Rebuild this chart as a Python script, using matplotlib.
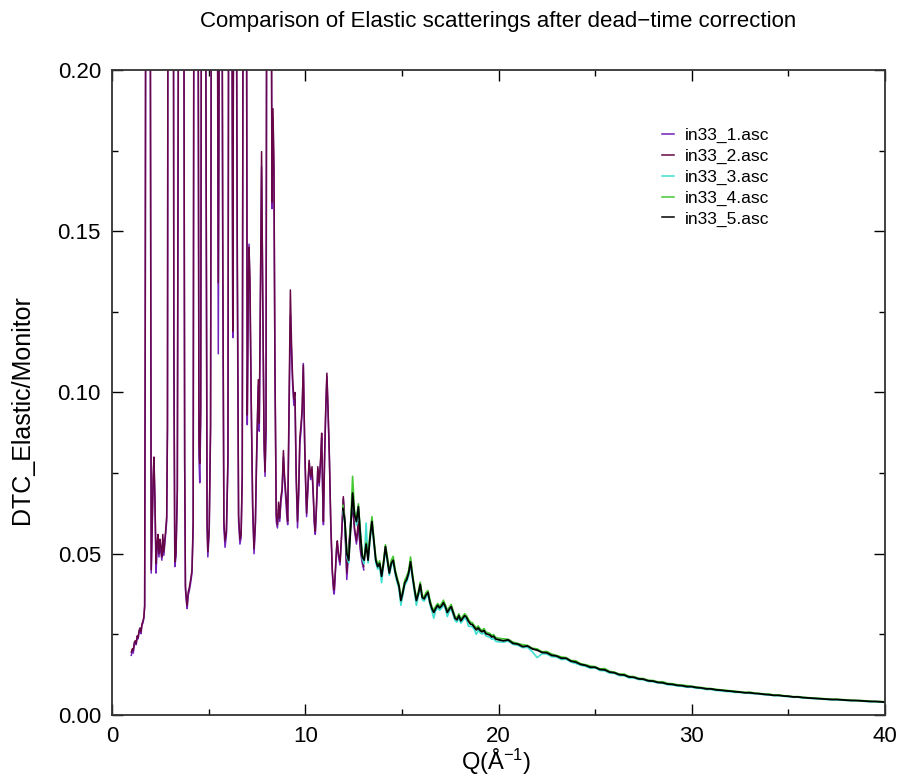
import matplotlib
matplotlib.use('Agg')
import matplotlib.pyplot as plt
from matplotlib.ticker import MultipleLocator, FormatStrFormatter

plt.rcParams['font.family'] = ['Liberation Sans', 'DejaVu Sans']
plt.rcParams['mathtext.fontset'] = 'custom'
plt.rcParams['mathtext.rm'] = 'Liberation Sans'
plt.rcParams['mathtext.default'] = 'regular'

# ---------------- data: low-Q runs (in33_1, in33_2) ----------------
q_low = [1.00, 1.05, 1.10, 1.15, 1.20, 1.25, 1.30, 1.35, 1.40, 1.45, 1.50, 1.55, 1.60, 1.65, 1.69,
         1.72, 1.78, 1.86, 1.94, 2.00, 2.03, 2.08, 2.13, 2.17, 2.22, 2.28, 2.33, 2.38, 2.43, 2.48, 2.53, 2.58, 2.63, 2.68, 2.73, 2.78, 2.83, 2.87,
         2.93, 3.05, 3.15, 3.20, 3.25, 3.31, 3.38, 3.43, 3.50, 3.60, 3.70, 3.76, 3.80, 3.85, 3.89, 3.94, 4.00, 4.07, 4.14, 4.20,
         4.25, 4.35, 4.45, 4.50, 4.54, 4.59, 4.65, 4.75, 4.86, 4.92, 4.96, 5.03, 5.10,
         5.19, 5.33, 5.47, 5.50, 5.55, 5.64, 5.73, 5.79, 5.85, 5.92, 6.00,
         6.05, 6.15, 6.22, 6.25, 6.28, 6.38, 6.48, 6.55, 6.62, 6.68, 6.74,
         6.80, 6.90, 6.97, 7.00, 7.05, 7.09, 7.14, 7.20, 7.28, 7.35, 7.42,
         7.48, 7.57, 7.62, 7.68, 7.74, 7.80, 7.87, 7.92, 7.97,
         8.03, 8.15, 8.25, 8.28, 8.33, 8.38, 8.43, 8.50, 8.56, 8.62, 8.68, 8.74, 8.80, 8.87, 8.92, 8.98, 9.04, 9.09,
         9.15, 9.23, 9.29, 9.35, 9.41, 9.47, 9.53, 9.60, 9.66, 9.72, 9.78, 9.84, 9.90, 9.97, 10.03, 10.07,
         10.13, 10.20, 10.28, 10.35, 10.42, 10.47, 10.52, 10.58, 10.65, 10.72, 10.80, 10.85, 10.90, 10.94,
         11.00, 11.06, 11.12, 11.18, 11.25, 11.32, 11.40, 11.46, 11.50, 11.56, 11.62, 11.66, 11.72, 11.80, 11.88, 11.97,
         12.05, 12.15, 12.25, 12.35, 12.45, 12.55, 12.65, 12.75, 12.85, 12.95, 13.03]

y_in33_1 = [0.0185, 0.0200, 0.0192, 0.0215, 0.0225, 0.0218, 0.0238, 0.0236, 0.0255, 0.0265, 0.0252, 0.0278, 0.0285, 0.0300, 0.0335,
            0.115, 0.400, 0.580, 0.370, 0.150, 0.0440, 0.0580, 0.0720, 0.0790, 0.0660, 0.0440, 0.0510, 0.0550, 0.0490, 0.0530, 0.0505, 0.0480, 0.0545, 0.0495, 0.0530, 0.0565, 0.0600, 0.0880,
            0.440, 0.680, 0.390, 0.115, 0.0460, 0.0490, 0.0690, 0.190, 0.540, 0.470, 0.290, 0.0780, 0.0390, 0.0350, 0.0330, 0.0370, 0.0385, 0.0410, 0.0440, 0.0580,
            0.290, 0.510, 0.250, 0.0800, 0.0720, 0.0900, 0.310, 0.410, 0.190, 0.0580, 0.0490, 0.0570, 0.0880,
            0.390, 0.510, 0.190, 0.1120, 0.210, 0.370, 0.140, 0.0580, 0.0520, 0.0560, 0.0780,
            0.290, 0.370, 0.190, 0.1170, 0.200, 0.340, 0.140, 0.0600, 0.0530, 0.0550, 0.0730,
            0.290, 0.390, 0.190, 0.0900, 0.1300, 0.1460, 0.1300, 0.0980, 0.0630, 0.0500, 0.0590,
            0.0780, 0.1020, 0.0880, 0.1280, 0.1700, 0.1280, 0.0830, 0.0740, 0.0880,
            0.340, 0.440, 0.210, 0.1570, 0.1850, 0.1680, 0.1080, 0.0600, 0.0580, 0.0640, 0.0600, 0.0660, 0.0690, 0.0800, 0.0730, 0.0680, 0.0620, 0.0590,
            0.0880, 0.1240, 0.1120, 0.1020, 0.0960, 0.0980, 0.0730, 0.0580, 0.0680, 0.0840, 0.0880, 0.0940, 0.1090, 0.0830, 0.0690, 0.0615,
            0.0690, 0.0780, 0.0730, 0.0760, 0.0670, 0.0590, 0.0560, 0.0640, 0.0760, 0.0710, 0.0790, 0.0860, 0.0690, 0.0590,
            0.0790, 0.0940, 0.1050, 0.0940, 0.0790, 0.0590, 0.0440, 0.0385, 0.0375, 0.0440, 0.0510, 0.0530, 0.0490, 0.0465, 0.0550, 0.0670,
            0.0590, 0.0420, 0.0510, 0.0590, 0.0650, 0.0570, 0.0530, 0.0590, 0.0510, 0.0470, 0.0450]

y_in33_2 = [0.0195, 0.0205, 0.0200, 0.0225, 0.0230, 0.0222, 0.0245, 0.0240, 0.0262, 0.0270, 0.0258, 0.0283, 0.0290, 0.0305, 0.0340,
            0.120, 0.420, 0.600, 0.380, 0.160, 0.0450, 0.0600, 0.0740, 0.0800, 0.0680, 0.0470, 0.0530, 0.0560, 0.0500, 0.0545, 0.0520, 0.0490, 0.0560, 0.0505, 0.0540, 0.0575, 0.0615, 0.0900,
            0.450, 0.700, 0.400, 0.120, 0.0475, 0.0500, 0.0700, 0.200, 0.550, 0.480, 0.300, 0.0800, 0.0400, 0.0360, 0.0340, 0.0380, 0.0395, 0.0420, 0.0450, 0.0600,
            0.300, 0.520, 0.260, 0.0850, 0.0780, 0.0950, 0.320, 0.420, 0.200, 0.0600, 0.0506, 0.0580, 0.0900,
            0.400, 0.520, 0.200, 0.1340, 0.220, 0.380, 0.150, 0.0600, 0.0540, 0.0570, 0.0800,
            0.300, 0.380, 0.200, 0.1190, 0.210, 0.350, 0.150, 0.0620, 0.0545, 0.0560, 0.0750,
            0.300, 0.400, 0.200, 0.0930, 0.1300, 0.1450, 0.1350, 0.1000, 0.0650, 0.0515, 0.0600,
            0.0800, 0.1040, 0.0905, 0.1300, 0.1747, 0.1300, 0.0850, 0.0754, 0.0900,
            0.350, 0.450, 0.220, 0.1590, 0.1880, 0.1700, 0.1100, 0.0620, 0.0590, 0.0660, 0.0610, 0.0676, 0.0700, 0.0820, 0.0750, 0.0700, 0.0650, 0.0600,
            0.0900, 0.1318, 0.1150, 0.1040, 0.0980, 0.1000, 0.0750, 0.0600, 0.0700, 0.0860, 0.0900, 0.0950, 0.1085, 0.0850, 0.0700, 0.0626,
            0.0700, 0.0790, 0.0740, 0.0770, 0.0680, 0.0600, 0.0570, 0.0650, 0.0770, 0.0720, 0.0800, 0.0874, 0.0700, 0.0600,
            0.0800, 0.0950, 0.1060, 0.0950, 0.0800, 0.0600, 0.0450, 0.0400, 0.0388, 0.0450, 0.0520, 0.0540, 0.0500, 0.0475, 0.0560, 0.0677,
            0.0600, 0.0440, 0.0520, 0.0600, 0.0660, 0.0580, 0.0540, 0.0600, 0.0520, 0.0480, 0.0460]

# ---------------- data: high-Q runs (in33_3, in33_4, in33_5) ----------------
q_high = [11.95, 12.05, 12.15, 12.25, 12.35, 12.45, 12.55, 12.65, 12.75, 12.85,
          12.95, 13.05, 13.15, 13.25, 13.35, 13.45, 13.55, 13.65, 13.75, 13.85,
          13.95, 14.05, 14.15, 14.25, 14.35, 14.45, 14.55, 14.65, 14.75, 14.85,
          14.95, 15.05, 15.15, 15.25, 15.35, 15.45, 15.55, 15.65, 15.75, 15.85,
          15.95, 16.05, 16.15, 16.25, 16.35, 16.45, 16.55, 16.65, 16.75, 16.85,
          16.95, 17.05, 17.15, 17.25, 17.35, 17.45, 17.55, 17.65, 17.75, 17.85,
          17.95, 18.05, 18.15, 18.25, 18.35, 18.45, 18.55, 18.65, 18.75, 18.85,
          18.95, 19.05, 19.15, 19.25, 19.35, 19.45, 19.55, 19.65, 19.75, 19.85,
          19.95,
          20.25, 20.50, 20.75, 21.00, 21.25, 21.50, 21.75, 22.00, 22.25, 22.50,
          22.75, 23.00, 23.25, 23.50, 23.75, 24.00, 24.25, 24.50, 24.75, 25.00,
          25.25, 25.50, 25.75, 26.00, 26.25, 26.50, 26.75, 27.00, 27.25, 27.50,
          27.75, 28.00, 28.25, 28.50, 28.75, 29.00, 29.25, 29.50, 29.75, 30.00,
          30.25, 30.50, 30.75, 31.00, 31.25, 31.50, 31.75, 32.00, 32.25, 32.50,
          32.75, 33.00, 33.25, 33.50, 33.75, 34.00, 34.25, 34.50, 34.75, 35.00,
          35.25, 35.50, 35.75, 36.00, 36.25, 36.50, 36.75, 37.00, 37.25, 37.50,
          37.75, 38.00, 38.25, 38.50, 38.75, 39.00, 39.25, 39.50, 39.75, 40.00]

y_in33_3 = [0.0630, 0.0592, 0.0490, 0.0472, 0.0595, 0.0675, 0.0630, 0.0588, 0.0640, 0.0575,
            0.0485, 0.0468, 0.0595, 0.0472, 0.0542, 0.0592, 0.0532, 0.0472, 0.0452, 0.0463,
            0.0410, 0.0462, 0.0515, 0.0473, 0.0433, 0.0462, 0.0473, 0.0437, 0.0412, 0.0392,
            0.0340, 0.0372, 0.0402, 0.0413, 0.0432, 0.0468, 0.0423, 0.0382, 0.0340, 0.0368,
            0.0398, 0.0358, 0.0353, 0.0365, 0.0373, 0.0343, 0.0323, 0.0300, 0.0323, 0.0333,
            0.0325, 0.0331, 0.0341, 0.0329, 0.0305, 0.0321, 0.0329, 0.0311, 0.0293, 0.0288,
            0.0301, 0.0285, 0.0293, 0.0301, 0.0295, 0.0275, 0.0275, 0.0273, 0.0265, 0.0250,
            0.0263, 0.0255, 0.0251, 0.0255, 0.0245, 0.0243, 0.0241, 0.0235, 0.0237, 0.0229,
            0.0227,
            0.0226, 0.0229, 0.0219, 0.0216, 0.0209, 0.0210, 0.0196, 0.0178, 0.0190, 0.0189,
            0.0181, 0.0180, 0.0172, 0.0173, 0.0164, 0.0160, 0.0154, 0.0151, 0.0145, 0.0146,
            0.0138, 0.0137, 0.0130, 0.0129, 0.0122, 0.0122, 0.0115, 0.0115, 0.0110, 0.0109,
            0.0104, 0.0103, 0.0099, 0.0098, 0.0094, 0.0093, 0.0090, 0.0089, 0.0086, 0.0086,
            0.0083, 0.0082, 0.0079, 0.0079, 0.0076, 0.0075, 0.0073, 0.0072, 0.0070, 0.0070,
            0.0068, 0.0067, 0.0066, 0.0065, 0.0063, 0.0062, 0.0060, 0.0060, 0.0058, 0.0057,
            0.0055, 0.0055, 0.0053, 0.0052, 0.0051, 0.0050, 0.0049, 0.0048, 0.0047, 0.0047,
            0.0046, 0.0045, 0.0044, 0.0044, 0.0043, 0.0042, 0.0041, 0.0041, 0.0040, 0.0039]

y_in33_4 = [0.0650, 0.0605, 0.0508, 0.0490, 0.0590, 0.0740, 0.0630, 0.0610, 0.0655, 0.0566,
            0.0498, 0.0487, 0.0536, 0.0490, 0.0560, 0.0615, 0.0548, 0.0488, 0.0467, 0.0478,
            0.0437, 0.0478, 0.0528, 0.0490, 0.0446, 0.0480, 0.0492, 0.0452, 0.0428, 0.0406,
            0.0362, 0.0388, 0.0418, 0.0430, 0.0448, 0.0490, 0.0438, 0.0398, 0.0362, 0.0382,
            0.0412, 0.0372, 0.0366, 0.0380, 0.0386, 0.0358, 0.0336, 0.0325, 0.0337, 0.0346,
            0.0338, 0.0345, 0.0356, 0.0342, 0.0325, 0.0334, 0.0343, 0.0324, 0.0306, 0.0301,
            0.0314, 0.0298, 0.0306, 0.0314, 0.0308, 0.0296, 0.0288, 0.0286, 0.0277, 0.0270,
            0.0276, 0.0267, 0.0263, 0.0268, 0.0257, 0.0255, 0.0253, 0.0247, 0.0249, 0.0241,
            0.0239,
            0.0236, 0.0235, 0.0226, 0.0222, 0.0218, 0.0216, 0.0207, 0.0205, 0.0196, 0.0197,
            0.0189, 0.0185, 0.0180, 0.0178, 0.0169, 0.0168, 0.0159, 0.0156, 0.0152, 0.0150,
            0.0143, 0.0144, 0.0135, 0.0133, 0.0127, 0.0127, 0.0120, 0.0119, 0.0114, 0.0113,
            0.0108, 0.0107, 0.0103, 0.0103, 0.0098, 0.0097, 0.0094, 0.0093, 0.0091, 0.0089,
            0.0087, 0.0085, 0.0083, 0.0082, 0.0080, 0.0078, 0.0077, 0.0075, 0.0074, 0.0072,
            0.0070, 0.0071, 0.0068, 0.0067, 0.0065, 0.0065, 0.0062, 0.0062, 0.0060, 0.0059,
            0.0057, 0.0057, 0.0055, 0.0054, 0.0053, 0.0052, 0.0051, 0.0050, 0.0049, 0.0049,
            0.0048, 0.0047, 0.0046, 0.0045, 0.0045, 0.0044, 0.0043, 0.0042, 0.0042, 0.0041]

y_in33_5 = [0.0640, 0.0600, 0.0500, 0.0480, 0.0580, 0.0688, 0.0620, 0.0600, 0.0646, 0.0560,
            0.0490, 0.0480, 0.0530, 0.0480, 0.0550, 0.0600, 0.0540, 0.0480, 0.0460, 0.0470,
            0.0430, 0.0470, 0.0522, 0.0480, 0.0440, 0.0470, 0.0480, 0.0445, 0.0420, 0.0400,
            0.0355, 0.0380, 0.0410, 0.0420, 0.0440, 0.0475, 0.0430, 0.0390, 0.0355, 0.0375,
            0.0405, 0.0365, 0.0360, 0.0372, 0.0380, 0.0350, 0.0330, 0.0318, 0.0330, 0.0340,
            0.0332, 0.0338, 0.0348, 0.0336, 0.0318, 0.0328, 0.0336, 0.0318, 0.0300, 0.0295,
            0.0308, 0.0292, 0.0300, 0.0308, 0.0302, 0.0290, 0.0282, 0.0280, 0.0272, 0.0264,
            0.0270, 0.0262, 0.0258, 0.0262, 0.0252, 0.0250, 0.0248, 0.0242, 0.0244, 0.0236,
            0.0234,
            0.0230, 0.0233, 0.0222, 0.0220, 0.0212, 0.0214, 0.0205, 0.0201, 0.0194, 0.0193,
            0.0185, 0.0183, 0.0176, 0.0176, 0.0167, 0.0164, 0.0157, 0.0154, 0.0148, 0.0148,
            0.0141, 0.0140, 0.0133, 0.0131, 0.0125, 0.0124, 0.0118, 0.0117, 0.0112, 0.0111,
            0.0106, 0.0105, 0.0101, 0.0100, 0.0096, 0.0095, 0.0092, 0.0091, 0.0088, 0.0088,
            0.0085, 0.0084, 0.0081, 0.0081, 0.0078, 0.0077, 0.0075, 0.0074, 0.0072, 0.0071,
            0.0069, 0.0069, 0.0067, 0.0066, 0.0064, 0.0063, 0.0061, 0.0061, 0.0059, 0.0058,
            0.0056, 0.0056, 0.0054, 0.0053, 0.0052, 0.0051, 0.0050, 0.0049, 0.0048, 0.0048,
            0.0047, 0.0046, 0.0045, 0.0045, 0.0044, 0.0043, 0.0042, 0.0042, 0.0041, 0.0040]

labels = ['in33_1.asc', 'in33_2.asc', 'in33_3.asc', 'in33_4.asc', 'in33_5.asc']
colors = ['#7221bc', '#670748', '#40e0d0', '#44c832', '#000000']
widths = [1.1, 1.1, 1.2, 1.2, 1.3]

title = 'Comparison of Elastic scatterings after dead\u2212time correction'
xlabel = 'Q(\u00c5$^{-1}$)'
ylabel = 'DTC_Elastic/Monitor'

# ---------------- figure ----------------
W, H = 900, 777
fig = plt.figure(figsize=(W / 100, H / 100), dpi=100)
ax = fig.add_axes([112 / W, 1 - 715 / H, 773 / W, 645 / H])

series = [(q_low, y_in33_1), (q_low, y_in33_2), (q_high, y_in33_3), (q_high, y_in33_4), (q_high, y_in33_5)]
for (qq, yy), lab, col, lw in zip(series, labels, colors, widths):
    ax.plot(qq, yy, color=col, lw=lw, label=lab)

ax.set_xlim(0, 40)
ax.set_ylim(0, 0.2)
ax.xaxis.set_major_locator(MultipleLocator(10))
ax.xaxis.set_minor_locator(MultipleLocator(5))
ax.yaxis.set_major_locator(MultipleLocator(0.05))
ax.yaxis.set_minor_locator(MultipleLocator(0.025))
ax.yaxis.set_major_formatter(FormatStrFormatter('%.2f'))
ax.tick_params(which='both', direction='in', top=True, right=True, labelsize=16, width=1.0, color='#000000')
ax.tick_params(which='major', length=8, pad=8)
ax.tick_params(which='minor', length=4.5)
for s in ax.spines.values():
    s.set_linewidth(1.3)
    s.set_color('#333333')

fig.text(498 / W, 1 - 21 / H, title, ha='center', va='center', fontsize=16)
fig.text(496 / W, 1 - 762 / H, xlabel, ha='center', va='center', fontsize=17)
fig.text(22 / W, 1 - 410 / H, ylabel, ha='center', va='center', rotation=90, fontsize=18)

for ln in ax.legend(loc='upper left', bbox_to_anchor=(662 / W, 1 - 128 / H), bbox_transform=fig.transFigure,
                    frameon=False, fontsize=12.5, handlelength=0.7, handletextpad=0.6, labelspacing=0.32,
                    borderpad=0, borderaxespad=0).get_lines():
    ln.set_linewidth(1.1)

fig.savefig('out.png', dpi=100)
